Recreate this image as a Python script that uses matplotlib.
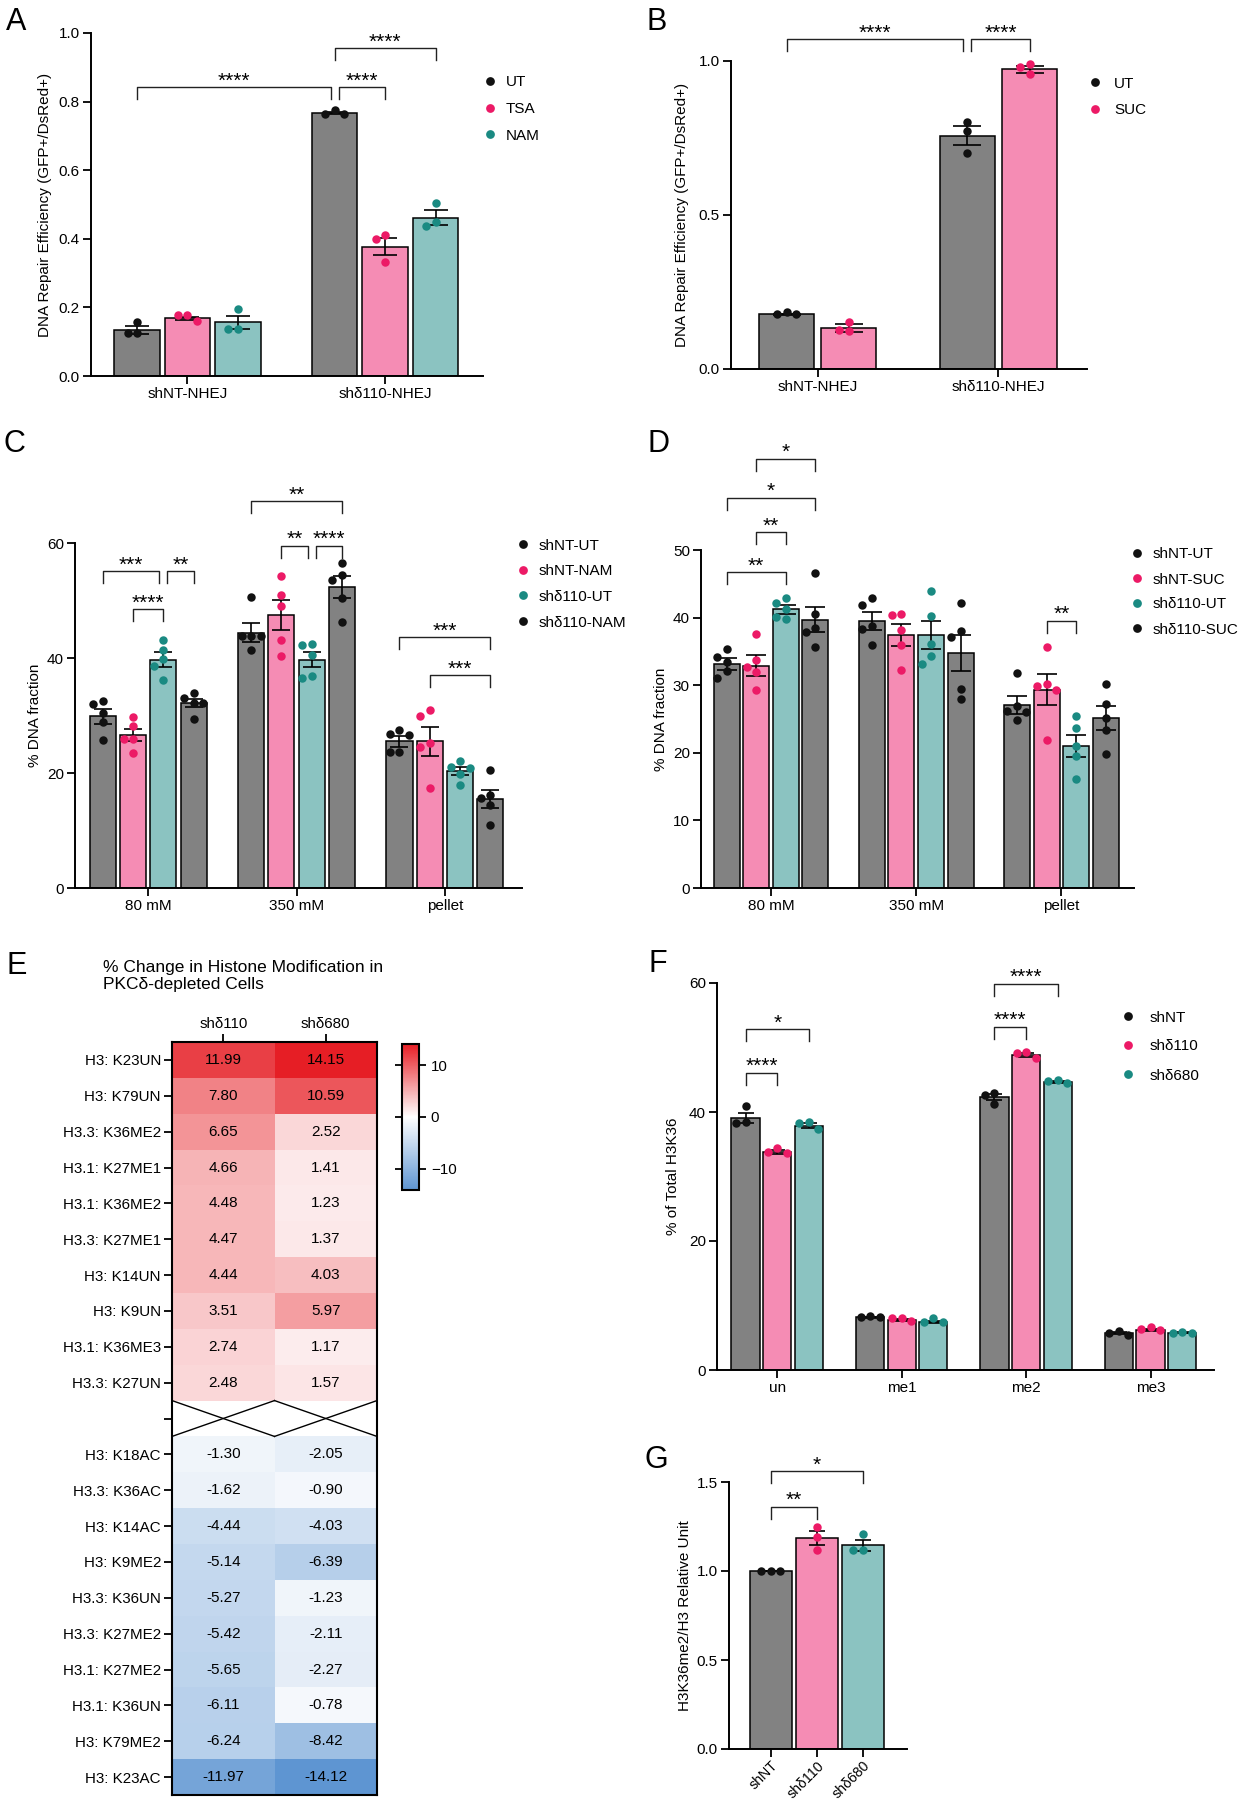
import numpy as np
import matplotlib
matplotlib.use("Agg")
import matplotlib.pyplot as plt
from matplotlib.colors import LinearSegmentedColormap, TwoSlopeNorm
from matplotlib.lines import Line2D
from matplotlib.ticker import FormatStrFormatter

plt.rcParams['font.family'] = ['Liberation Sans', 'DejaVu Sans']

W, H, DPI = 1243, 1800, 100

# -----------------------
# Data
# -----------------------
# A: DNA repair, UT / TSA / NAM
a_groups = ["shNT-NHEJ", "shδ110-NHEJ"]
a_series = ["UT", "TSA", "NAM"]
a_mean = [[0.134, 0.168, 0.156], [0.767, 0.377, 0.462]]
a_sem = [[0.013, 0.005, 0.020], [0.003, 0.025, 0.022]]
a_pts = [[[0.158, 0.125, 0.125], [0.160, 0.177, 0.177], [0.195, 0.138, 0.138]],
         [[0.765, 0.776, 0.765], [0.411, 0.399, 0.332], [0.504, 0.436, 0.450]]]

# B: DNA repair, UT / SUC
b_groups = ["shNT-NHEJ", "shδ110-NHEJ"]
b_series = ["UT", "SUC"]
b_mean = [[0.178, 0.133], [0.758, 0.973]]
b_sem = [[0.002, 0.013], [0.030, 0.012]]
b_pts = [[[0.178, 0.184, 0.178], [0.154, 0.125, 0.127]],
         [[0.802, 0.773, 0.702], [0.991, 0.957, 0.980]]]

# C: DNA fraction, NAM
c_groups = ["80 mM", "350 mM", "pellet"]
c_series = ["shNT-UT", "shNT-NAM", "shδ110-UT", "shδ110-NAM"]
c_mean = [[29.9, 26.6, 39.7, 32.1],
          [44.4, 47.5, 39.7, 52.3],
          [25.5, 25.5, 20.3, 15.5]]
c_sem = [[1.3, 1.1, 1.3, 0.7],
         [1.7, 2.6, 1.3, 1.9],
         [0.9, 2.5, 0.7, 1.6]]
c_pts = [[[32.6, 32.0, 30.4, 28.8, 25.8], [29.7, 28.1, 26.0, 26.0, 23.5],
          [43.2, 41.4, 39.8, 38.6, 36.2], [33.0, 33.9, 32.2, 32.1, 29.4]],
         [[50.6, 43.9, 43.8, 43.8, 41.4], [54.3, 51.0, 49.0, 43.2, 40.3],
          [42.5, 42.2, 40.6, 36.5, 36.8], [56.6, 53.5, 54.5, 50.4, 46.3]],
         [[26.7, 27.5, 26.6, 23.6, 23.6], [30.9, 30.0, 25.3, 24.5, 17.4],
          [22.1, 21.0, 20.8, 19.8, 18.0], [20.6, 15.65, 16.1, 14.5, 10.9]]]

# D: DNA fraction, SUC
d_groups = ["80 mM", "350 mM", "pellet"]
d_series = ["shNT-UT", "shNT-SUC", "shδ110-UT", "shδ110-SUC"]
d_mean = [[33.1, 32.9, 41.2, 39.7],
          [39.5, 37.4, 37.4, 34.8],
          [27.05, 29.3, 21.0, 25.1]]
d_sem = [[0.85, 1.5, 0.6, 1.9],
         [1.3, 1.6, 2.1, 2.7],
         [1.3, 2.3, 1.6, 1.8]]
d_pts = [[[35.4, 33.4, 34.2, 32.1, 31.0], [37.6, 33.8, 32.7, 32.0, 29.3],
          [42.9, 42.1, 41.2, 40.1, 39.8], [46.6, 40.6, 38.4, 37.8, 35.6]],
         [[42.9, 41.8, 38.8, 38.3, 35.9], [40.6, 40.4, 38.1, 35.9, 32.2],
          [43.9, 40.2, 36.1, 34.3, 33.1], [42.2, 37.1, 38.0, 29.4, 28.0]],
         [[31.8, 26.9, 26.1, 26.2, 24.8], [35.6, 30.2, 29.9, 29.3, 21.9],
          [25.4, 23.6, 21.0, 19.5, 16.1], [30.2, 27.2, 25.2, 23.4, 19.8]]]

# E: heatmap
e_cols = ["shδ110", "shδ680"]
e_rows_up = ["H3: K23UN", "H3: K79UN", "H3.3: K36ME2", "H3.1: K27ME1", "H3.1: K36ME2",
             "H3.3: K27ME1", "H3: K14UN", "H3: K9UN", "H3.1: K36ME3", "H3.3: K27UN"]
e_up_110 = [11.99, 7.80, 6.65, 4.66, 4.48, 4.47, 4.44, 3.51, 2.74, 2.48]
e_up_680 = [14.15, 10.59, 2.52, 1.41, 1.23, 1.37, 4.03, 5.97, 1.17, 1.57]
e_rows_down = ["H3: K18AC", "H3.3: K36AC", "H3: K14AC", "H3: K9ME2", "H3.3: K36UN",
               "H3.3: K27ME2", "H3.1: K27ME2", "H3.1: K36UN", "H3: K79ME2", "H3: K23AC"]
e_down_110 = [-1.30, -1.62, -4.44, -5.14, -5.27, -5.42, -5.65, -6.11, -6.24, -11.97]
e_down_680 = [-2.05, -0.90, -4.03, -6.39, -1.23, -2.11, -2.27, -0.78, -8.42, -14.12]

# F: H3K36 methylation states
f_groups = ["un", "me1", "me2", "me3"]
f_series = ["shNT", "shδ110", "shδ680"]
f_mean = [[39.1, 33.8, 37.9], [8.16, 7.74, 7.5], [42.3, 48.9, 44.7], [5.7, 6.2, 5.8]]
f_sem = [[0.8, 0.25, 0.35], [0.07, 0.13, 0.15], [0.5, 0.3, 0.15], [0.17, 0.15, 0.03]]
f_pts = [[[40.9, 38.3, 38.5], [33.6, 34.4, 33.8], [37.3, 38.4, 38.3]],
         [[8.16, 8.36, 8.16], [7.6, 8.0, 8.0], [7.4, 8.0, 7.5]],
         [[42.95, 41.3, 42.6], [48.4, 49.3, 49.2], [44.55, 45.0, 44.8]],
         [[5.5, 6.1, 5.7], [6.2, 6.7, 6.3], [5.8, 5.9, 5.8]]]

# G: H3K36me2/H3
g_cats = ["shNT", "shδ110", "shδ680"]
g_mean = [1.0, 1.185, 1.144]
g_sem = [0.002, 0.037, 0.032]
g_pts = [[1.0, 1.0, 1.0], [1.247, 1.19, 1.12], [1.208, 1.116, 1.116]]

# significance brackets: (group_a, bar_a, group_b, bar_b, y, label, nudge_a_px, nudge_b_px)
a_sig = [(0, 0, 1, 0, 0.842, "****", 0, -4), (1, 0, 1, 1, 0.842, "****", 4, 0),
         (1, 0, 1, 2, 0.956, "****", 0, 0)]
b_sig = [(0, 0, 1, 0, 1.07, "****", 0, -4), (1, 0, 1, 1, 1.07, "****", 4, 0)]
c_sig = [(0, 0, 0, 2, 55.07, "***", 0, -4), (0, 2, 0, 3, 55.07, "**", 4, 0),
         (0, 1, 0, 2, 48.5, "****", 0, 0), (1, 0, 1, 3, 67.3, "**", 0, 0),
         (1, 1, 1, 2, 59.5, "**", 0, -4), (1, 2, 1, 3, 59.5, "****", 4, 0),
         (2, 0, 2, 3, 43.6, "***", 0, 0), (2, 1, 2, 3, 37.0, "***", 0, 0)]
d_sig = [(0, 0, 0, 2, 46.7, "**", 0, 0), (0, 1, 0, 2, 52.6, "**", 0, 0),
         (0, 0, 0, 3, 57.7, "*", 0, 0), (0, 1, 0, 3, 63.5, "*", 0, 0),
         (2, 1, 2, 2, 39.5, "**", 0, 0)]
f_sig = [(0, 0, 0, 2, 52.8, "*", 0, 0), (0, 0, 0, 1, 46.1, "****", 0, 0),
         (2, 0, 2, 2, 59.9, "****", 0, 0), (2, 0, 2, 1, 53.2, "****", 0, 0)]
g_sig = [(0, 0, 1, 0, 1.36, "**", 0, 0), (0, 0, 2, 0, 1.56, "*", 0, 0)]

# -----------------------
# Style
# -----------------------
GREY, PINK, TEAL = "#828282", "#f58cb4", "#8bc3c1"
K_DOT, P_DOT, T_DOT = "#111111", "#ec1a66", "#1a8a82"
FS = 11
DOT_PX = 8.5
STEP_PX = 9.5

fig = plt.figure(figsize=(W / DPI, H / DPI), dpi=DPI)


def add_ax(l, t, r, b):
    return fig.add_axes([l / W, 1 - b / H, (r - l) / W, (b - t) / H])


def px_scale(ax):
    pos = ax.get_position()
    x0, x1 = ax.get_xlim()
    y0, y1 = ax.get_ylim()
    return pos.width * W / (x1 - x0), pos.height * H / (y1 - y0)


def swarm(vals, xpu, ypu):
    # simple beeswarm so that replicate dots do not sit on each other
    vals = np.asarray(vals, float)
    offs = np.zeros(len(vals))
    placed = []
    for i in np.argsort(-vals, kind="stable"):
        y = vals[i] * ypu
        for k in [0, -1, 1, -2, 2, -3, 3]:
            x = k * STEP_PX
            if all(np.hypot(x - px, y - py) >= DOT_PX for px, py in placed):
                break
        placed.append((x, y))
        offs[i] = x / xpu
    return offs


def style(ax, yticks, fmt, ylabel, lab_x):
    ax.spines[["top", "right"]].set_visible(False)
    ax.spines[["left", "bottom"]].set_linewidth(1.4)
    ax.tick_params(length=6, width=1.3, labelsize=FS, pad=2)
    ax.set_yticks(yticks)
    ax.yaxis.set_major_formatter(FormatStrFormatter(fmt))
    ax.set_ylabel(ylabel, fontsize=FS)
    ax.yaxis.set_label_coords(lab_x, 0.5)


def bar_x(g, s, ns, step):
    return g + (s - (ns - 1) / 2) * step


def grouped(ax, means, sems, pts, bcols, dcols, step, width, cap, by_group=False):
    xpu, ypu = px_scale(ax)
    ng, ns = len(means), len(means[0])
    for g in range(ng):
        for s in range(ns):
            x = bar_x(g, s, ns, step)
            ci = g if by_group else s
            ax.bar(x, means[g][s], width, color=bcols[ci], edgecolor="black",
                   linewidth=1.1, zorder=2)
            ax.errorbar(x, means[g][s], yerr=sems[g][s], color="black", capsize=cap,
                        elinewidth=1.2, capthick=1.2, zorder=3)
            ax.scatter(x + swarm(pts[g][s], xpu, ypu), pts[g][s], s=37,
                       color=dcols[ci], linewidths=0, zorder=4, clip_on=False)


def brackets(ax, sigs, ns, step):
    xpu, ypu = px_scale(ax)
    h = 12 / ypu
    for ga, sa, gb, sb, y, lab, na, nb in sigs:
        x1 = bar_x(ga, sa, ns, step) + na / xpu
        x2 = bar_x(gb, sb, ns, step) + nb / xpu
        ax.plot([x1, x1, x2, x2], [y - h, y, y, y - h], color="#222222", lw=1.0,
                clip_on=False, zorder=5)
        ax.annotate(lab, xy=((x1 + x2) / 2, y), xytext=(0, 0.5), textcoords="offset points",
                    ha="center", va="baseline", fontsize=15, annotation_clip=False)


def legend_at(labels, colors, mx, y0, dy, tx):
    for i, (lab, c) in enumerate(zip(labels, colors)):
        y = 1 - (y0 + i * dy) / H
        fig.add_artist(Line2D([mx / W], [y], marker="o", ls="", color=c,
                              markersize=6.3, markeredgewidth=0, transform=fig.transFigure))
        fig.text(tx / W, y, lab, fontsize=FS, ha="left", va="center_baseline")


def letter(ch, x, y):
    fig.text(x / W, 1 - y / H, ch, fontsize=22, ha="center", va="center_baseline")


# -----------------------
# Panel A
# -----------------------
ax = add_ax(91, 33, 483, 376)
ax.set_xlim(-0.488, 1.495)
ax.set_ylim(0, 1.0)
style(ax, np.arange(0, 1.01, 0.2), "%.1f", "DNA Repair Efficiency (GFP+/DsRed+)", -0.1)
ax.set_xticks(range(len(a_groups)))
ax.set_xticklabels(a_groups)
grouped(ax, a_mean, a_sem, a_pts, [GREY, PINK, TEAL], [K_DOT, P_DOT, T_DOT], 0.255, 0.23, 8.5)
brackets(ax, a_sig, 3, 0.255)
legend_at(a_series, [K_DOT, P_DOT, T_DOT], 490, 81, 26.5, 506)
letter("A", 16, 18)

# -----------------------
# Panel B
# -----------------------
ax = add_ax(731, 61, 1087, 369)
ax.set_xlim(-0.48, 1.49)
ax.set_ylim(0, 1.0)
style(ax, [0, 0.5, 1.0], "%.1f", "DNA Repair Efficiency (GFP+/DsRed+)", -0.117)
ax.set_xticks(range(len(b_groups)))
ax.set_xticklabels(b_groups)
grouped(ax, b_mean, b_sem, b_pts, [GREY, PINK], [K_DOT, P_DOT], 0.344, 0.306, 10)
brackets(ax, b_sig, 2, 0.344)
legend_at(b_series, [K_DOT, P_DOT], 1095, 82, 27, 1114)
letter("B", 657, 18)

# -----------------------
# Panel C
# -----------------------
ax = add_ax(75, 543, 522, 888)
ax.set_xlim(-0.494, 2.52)
ax.set_ylim(0, 60)
style(ax, [0, 20, 40, 60], "%d", "% DNA fraction", -0.074)
ax.set_xticks(range(len(c_groups)))
ax.set_xticklabels(c_groups)
grouped(ax, c_mean, c_sem, c_pts, [GREY, PINK, TEAL, GREY],
        [K_DOT, P_DOT, T_DOT, K_DOT], 0.204, 0.176, 6.4)
brackets(ax, c_sig, 4, 0.204)
legend_at(c_series, [K_DOT, P_DOT, T_DOT, K_DOT], 523, 544, 25.7, 539)
letter("C", 14, 441)

# -----------------------
# Panel D
# -----------------------
ax = add_ax(701, 550, 1134, 888)
ax.set_xlim(-0.482, 2.5)
ax.set_ylim(0, 50)
style(ax, [0, 10, 20, 30, 40, 50], "%d", "% DNA fraction", -0.076)
ax.set_xticks(range(len(d_groups)))
ax.set_xticklabels(d_groups)
grouped(ax, d_mean, d_sem, d_pts, [GREY, PINK, TEAL, GREY],
        [K_DOT, P_DOT, T_DOT, K_DOT], 0.204, 0.179, 6.9)
brackets(ax, d_sig, 4, 0.204)
legend_at(d_series, [K_DOT, P_DOT, T_DOT, K_DOT], 1137, 553, 25, 1153)
letter("D", 658, 441)

# -----------------------
# Panel E (heatmap)
# -----------------------
up = np.column_stack([e_up_110, e_up_680])
down = np.column_stack([e_down_110, e_down_680])
mat = np.vstack([up, np.full((1, 2), np.nan), down])
mat = np.ma.masked_invalid(mat)
row_labels = e_rows_up + [""] + e_rows_down

cmap = LinearSegmentedColormap.from_list("bwr_gp", ["#5e95d2", "#ffffff", "#e61e25"])
norm = TwoSlopeNorm(vcenter=0, vmin=float(mat.min()), vmax=float(mat.max()))

ax = add_ax(172, 1042, 377, 1795)
im = ax.imshow(mat, cmap=cmap, norm=norm, aspect="auto", interpolation="nearest")
gap = len(e_rows_up)
for r in range(mat.shape[0]):
    for c in range(mat.shape[1]):
        if r == gap:
            ax.plot([c - 0.5, c + 0.5], [r - 0.5, r + 0.5], color="black", lw=1.0)
            ax.plot([c - 0.5, c + 0.5], [r + 0.5, r - 0.5], color="black", lw=1.0)
        else:
            ax.text(c, r, f"{mat[r, c]:.2f}", ha="center", va="center", fontsize=11)
ax.set_xlim(-0.5, 1.5)
ax.set_ylim(mat.shape[0] - 0.5, -0.5)
ax.set_yticks(range(len(row_labels)))
ax.set_yticklabels(row_labels, fontsize=10.9)
ax.xaxis.tick_top()
ax.set_xticks(range(len(e_cols)))
ax.set_xticklabels(e_cols, fontsize=10.9)
ax.tick_params(length=6, width=1.3, pad=2)
for sp in ax.spines.values():
    sp.set_linewidth(1.5)

cax = add_ax(402, 1044, 419, 1190)
cb = fig.colorbar(im, cax=cax, ticks=[-10, 0, 10])
cb.outline.set_linewidth(1.5)
cax.tick_params(left=True, right=True, length=5, width=1.3, labelsize=10.9)
fig.text(103 / W, 1 - 976 / H, "% Change in Histone Modification in\nPKCδ-depleted Cells",
         ha="left", va="center", fontsize=12.5, linespacing=1.2)
letter("E", 17, 962)

# -----------------------
# Panel F
# -----------------------
ax = add_ax(717, 983, 1214, 1370)
ax.set_xlim(-0.484, 3.51)
ax.set_ylim(0, 60)
style(ax, [0, 20, 40, 60], "%d", "% of Total H3K36", -0.074)
ax.set_xticks(range(len(f_groups)))
ax.set_xticklabels(f_groups)
grouped(ax, f_mean, f_sem, f_pts, [GREY, PINK, TEAL], [K_DOT, P_DOT, T_DOT], 0.254, 0.227, 5.5)
brackets(ax, f_sig, 3, 0.254)
legend_at(f_series, [K_DOT, P_DOT, T_DOT], 1128, 1016, 29, 1150)
letter("F", 658, 961)

# -----------------------
# Panel G
# -----------------------
ax = add_ax(729, 1482, 907, 1749)
ax.set_xlim(-0.91, 2.96)
ax.set_ylim(0, 1.5)
style(ax, [0, 0.5, 1.0, 1.5], "%.1f", "H3K36me2/H3 Relative Unit", -0.208)
grouped(ax, [[m] for m in g_mean], [[e] for e in g_sem], [[p] for p in g_pts],
        [GREY, PINK, TEAL], [K_DOT, P_DOT, T_DOT], 0, 0.9, 6, by_group=True)
ax.set_xticks(range(len(g_cats)))
ax.set_xticklabels(g_cats, rotation=45, ha="right", rotation_mode="anchor", fontsize=10.2)
ax.tick_params(axis="x", pad=1)
brackets(ax, g_sig, 1, 0)
letter("G", 656, 1457)

fig.savefig("out.png", dpi=DPI)
